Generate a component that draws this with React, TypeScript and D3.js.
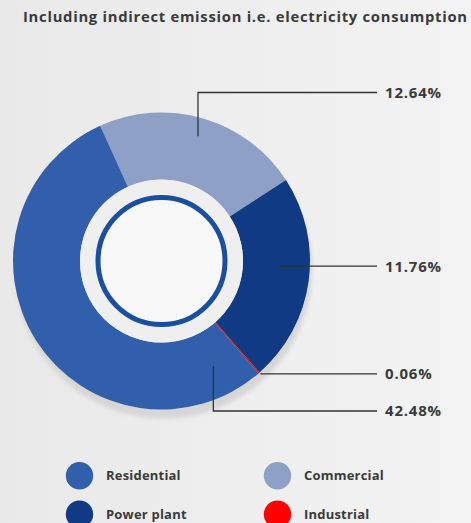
import React, { useEffect } from 'react';
import * as d3 from 'd3';

// slice order as drawn clockwise, starting top-left
const categories = ['Commercial', 'Power plant', 'Industrial', 'Residential'];
const sliceShares = [22.6, 22.7, 0.15, 54.55];
// printed callout values
const labelValues = ['12.64%', '11.76%', '0.06%', '42.48%'];
const legendOrder = ['Residential', 'Commercial', 'Power plant', 'Industrial'];
const title = 'Including indirect emission i.e. electricity consumption';

const colors: Record<string, string> = {
  Residential: '#325fab',
  Commercial: '#8fa0c6',
  'Power plant': '#113a84',
  Industrial: '#ff0000',
};

// callout anchors (polar, degrees clockwise from top) and elbow label y
const callouts = [
  { angle: 16.3, r: 130, labelY: 92.5 },
  { angle: 92.5, r: 117, labelY: null },
  { angle: 138.8, r: 150, labelY: null },
  { angle: 153.7, r: 117, labelY: 411 },
];

const W = 471;
const H = 523;
const cx = 161.5;
const cy = 261;
const outerR = 148.5;
const innerR = 81.5;

export default function App() {
  useEffect(() => {
    document.body.style.margin = '0';
  }, []);

  const startAngle = (-24.4 * Math.PI) / 180;
  const pie = d3
    .pie<number>()
    .sort(null)
    .value((d) => d)
    .startAngle(startAngle)
    .endAngle(startAngle + Math.PI * 2);
  const arcs = pie(sliceShares);
  const arc = d3.arc<d3.PieArcDatum<number>>().innerRadius(innerR).outerRadius(outerR);

  const polar = (deg: number, r: number) => {
    const a = (deg * Math.PI) / 180;
    return [cx + r * Math.sin(a), cy - r * Math.cos(a)];
  };

  const lineEndX = 377;
  const textX = 385;

  return (
    <svg width={W} height={H} style={{ display: 'block' }}>
      <defs>
        <linearGradient id="bg" x1="0" x2="1" y1="0" y2="0">
          <stop offset="0" stopColor="#e9e9e9" />
          <stop offset="1" stopColor="#f3f3f3" />
        </linearGradient>
        <filter id="blur" x="-20%" y="-20%" width="140%" height="140%">
          <feGaussianBlur stdDeviation="2" />
        </filter>
      </defs>
      <rect width={W} height={H} fill="url(#bg)" />

      <text
        x={23}
        y={22}
        fontFamily="'Open Sans', sans-serif"
        fontWeight={700}
        fontSize={14.8}
        fill="#3a3a3a"
        textLength={444}
        lengthAdjust="spacing"
      >
        {title}
      </text>

      {/* shadow */}
      <circle cx={cx + 2} cy={cy + 9} r={outerR} fill="#d6d6d6" filter="url(#blur)" />

      <g transform={`translate(${cx},${cy})`}>
        {arcs.map((a, i) => (
          <path key={categories[i]} d={arc(a) || ''} fill={colors[categories[i]]} />
        ))}
        <circle r={innerR} fill="#efefef" />
        <circle r={63.5} fill="#f8f8f8" stroke="#1a4ea0" strokeWidth={5} />
      </g>

      {callouts.map((c, i) => {
        const [ax, ay] = polar(c.angle, c.r);
        const ly = c.labelY ?? ay;
        const pts =
          c.labelY == null
            ? [[ax, ay], [lineEndX, ly]]
            : [[ax, ay], [ax, ly], [lineEndX, ly]];
        return (
          <g key={categories[i]}>
            <path
              d={d3.line()(pts as [number, number][]) || ''}
              fill="none"
              stroke="#333"
              strokeWidth={1.3}
            />
            <text
              x={textX}
              y={ly}
              dy="0.36em"
              fontFamily="'Open Sans', sans-serif"
              fontWeight={700}
              fontSize={15}
              letterSpacing={0.8}
              fill="#3a3a3a"
            >
              {labelValues[i]}
            </text>
          </g>
        );
      })}

      {legendOrder.map((name, i) => {
        const col = i % 2;
        const row = Math.floor(i / 2);
        const x = 79.5 + col * 198;
        const y = 475.7 + row * 38.6;
        return (
          <g key={name}>
            <circle cx={x} cy={y} r={13.7} fill={colors[name]} />
            <text
              x={x + 26.5}
              y={y}
              dy="0.36em"
              fontFamily="'Open Sans', sans-serif"
              fontWeight={700}
              fontSize={13}
              letterSpacing={0.2}
              fill="#3a3a3a"
            >
              {name}
            </text>
          </g>
        );
      })}
    </svg>
  );
}
